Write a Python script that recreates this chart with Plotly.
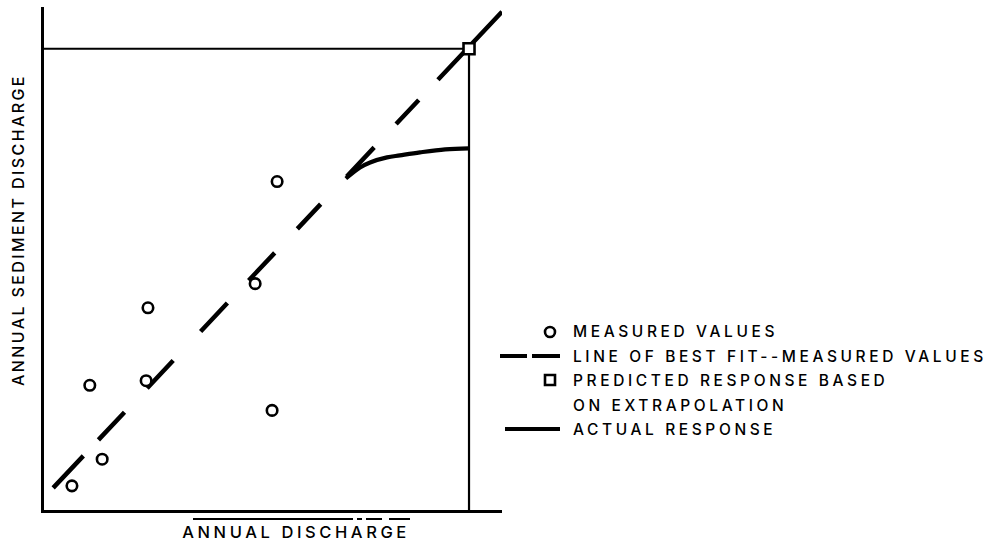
import plotly.graph_objects as go

# ---------------- data (arbitrary units) ----------------
measured_x = [0.61, 1.27, 1.00, 2.23, 2.27, 4.61, 4.98, 5.09]
measured_y = [0.48, 1.01, 2.48, 2.57, 4.02, 4.50, 1.98, 6.53]

fit_slope = 0.966
fit_intercept = 0.246
fit_x = [0.20, 10.0]

predicted_x = [9.28]
predicted_y = [9.17]

actual_x = [9.28, 8.76, 8.21, 7.77, 7.49, 7.12, 6.90, 6.59]
actual_y = [7.19, 7.17, 7.11, 7.05, 7.01, 6.91, 6.81, 6.59]

x_title = "ANNUAL DISCHARGE"
y_title = "ANNUAL SEDIMENT DISCHARGE"
legend_labels = [
    "MEASURED VALUES",
    "LINE OF BEST FIT--MEASURED VALUES",
    "PREDICTED RESPONSE BASED\nON EXTRAPOLATION",
    "ACTUAL RESPONSE",
]

# ---------------- layout geometry ----------------
W, H = 993, 550
L, R, T, B = 44, 491, 7, 40
PW, PH = W - L - R, H - T - B


def px_x(px):
    return (px - L) / PW


def px_y(py):
    return (H - B - py) / PH


FONT = "Inter"
WEIGHT = 500
INK = "#000000"

fit_y = [fit_slope * v + fit_intercept for v in fit_x]

fig = go.Figure()

# guide lines from the axes to the predicted point
fig.add_trace(go.Scatter(
    x=[0, predicted_x[0], predicted_x[0]],
    y=[predicted_y[0], predicted_y[0], 0],
    mode="lines", line=dict(color=INK, width=2.2), hoverinfo="skip"))

# line of best fit (dashed, extrapolated)
fig.add_trace(go.Scatter(
    x=fit_x, y=fit_y, mode="lines",
    line=dict(color=INK, width=4.5,
              dash="44px,22px,38px,33px,38px,40px,39px,31px,38px,33px,34px,38px,40px,32px,33px,28px,300px"),
    hoverinfo="skip"))

# actual response
fig.add_trace(go.Scatter(
    x=actual_x, y=actual_y, mode="lines",
    line=dict(color=INK, width=4.2, shape="spline", smoothing=1.0),
    hoverinfo="skip"))

# measured values
fig.add_trace(go.Scatter(
    x=measured_x, y=measured_y, mode="markers",
    marker=dict(symbol="circle", size=10.5, color="white",
                line=dict(color=INK, width=2.6)),
    cliponaxis=False, hoverinfo="skip"))

# predicted response
fig.add_trace(go.Scatter(
    x=predicted_x, y=predicted_y, mode="markers",
    marker=dict(symbol="square", size=11, color="white",
                line=dict(color=INK, width=2.6)),
    cliponaxis=False, hoverinfo="skip"))

annotations = []
shapes = []

# axis titles
annotations.append(dict(
    text=x_title, xref="paper", yref="paper", x=px_x(296), y=px_y(532),
    xanchor="center", yanchor="middle", showarrow=False,
    font=dict(family=FONT, size=16.5, color=INK, weight=WEIGHT)))
annotations.append(dict(
    text=y_title, xref="paper", yref="paper", x=px_x(18), y=px_y(230),
    xanchor="center", yanchor="middle", textangle=-90, showarrow=False,
    font=dict(family=FONT, size=16, color=INK, weight=WEIGHT)))

# short rule under the x axis
shapes.append(dict(
    type="line", xref="paper", yref="paper",
    x0=px_x(193), x1=px_x(410), y0=px_y(519), y1=px_y(519),
    line=dict(color=INK, width=2.2, dash="160px,4px,5px,4px,16px,7px,25px")))

# custom legend
legend_rows = [332, 356, 380, 429]
text_x = 571
for label, row in zip(legend_labels, legend_rows):
    for k, part in enumerate(label.split("\n")):
        annotations.append(dict(
            text=part, xref="paper", yref="paper",
            x=px_x(text_x), y=px_y(row + 25 * k),
            xanchor="left", yanchor="middle", align="left", showarrow=False,
            font=dict(family=FONT, size=15.5, color=INK, weight=WEIGHT)))

# legend keys
shapes.append(dict(type="circle", xref="paper", yref="paper",
                   x0=px_x(545), x1=px_x(555), y0=px_y(337), y1=px_y(327),
                   line=dict(color=INK, width=2.6), fillcolor="white"))
shapes.append(dict(type="line", xref="paper", yref="paper",
                   x0=px_x(500), x1=px_x(560), y0=px_y(356), y1=px_y(356),
                   line=dict(color=INK, width=4, dash="27px,5px,40px")))
shapes.append(dict(type="rect", xref="paper", yref="paper",
                   x0=px_x(545), x1=px_x(555), y0=px_y(385), y1=px_y(375),
                   line=dict(color=INK, width=2.6), fillcolor="white"))
shapes.append(dict(type="line", xref="paper", yref="paper",
                   x0=px_x(505), x1=px_x(560), y0=px_y(429), y1=px_y(429),
                   line=dict(color=INK, width=4)))

axis_common = dict(range=[0, 10], showline=True, linecolor=INK, linewidth=2.5,
                   showgrid=False, zeroline=False, showticklabels=False,
                   ticks="", fixedrange=True)

fig.update_layout(
    width=W, height=H, autosize=False,
    margin=dict(l=L, r=R, t=T, b=B),
    paper_bgcolor="white", plot_bgcolor="white",
    showlegend=False,
    xaxis=axis_common, yaxis=axis_common,
    annotations=annotations, shapes=shapes,
)

post = ("document.body.style.margin='0';"
        "document.body.style.overflow='hidden';"
        "var ts=document.querySelectorAll('.annotation-text');"
        "ts.forEach(function(t,i){t.style.letterSpacing=(i===1?'2.4px':'3.6px');});")

fig.write_html("out.html", post_script=post, config={"displayModeBar": False})
